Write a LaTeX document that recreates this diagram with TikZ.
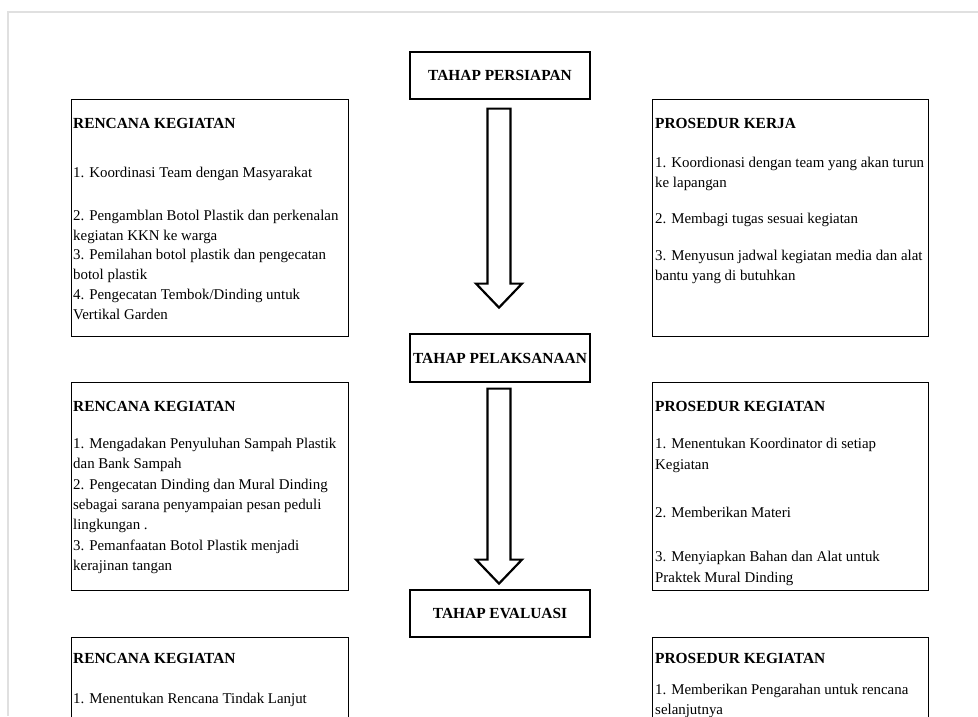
\documentclass[tikz,border=0pt]{standalone}
\usepackage{fontspec}
\setmainfont{Liberation Serif}
\usepackage{tikz}
\usetikzlibrary{calc}

\begin{document}
\begin{tikzpicture}[x=1pt,y=-1pt,line join=miter,
    every node/.style={inner sep=0pt,font=\fontsize{14.9pt}{20pt}\selectfont},
    stage/.style={draw=black,line width=1.2pt,minimum width=180pt,minimum height=47pt,
      font=\fontsize{15.4pt}{20pt}\selectfont\bfseries},
    panel/.style={draw=black,line width=1.2pt,anchor=north west},
    txt/.style={anchor=base west},
    head/.style={anchor=base west,font=\fontsize{15.4pt}{20pt}\selectfont\bfseries},
    hollow/.style={draw=black,line width=2.2pt,fill=white}]
  \useasboundingbox (0,0) rectangle (978,716);
  \draw[black!12,line width=1.5pt] (978,12) -- (8,12) -- (8,716);

  \node[stage] (persiapan) at (500,75.5) {TAHAP PERSIAPAN};
  \node[stage,minimum height=48pt] (pelaksanaan) at (500,358) {TAHAP PELAKSANAAN};
  \node[stage] (evaluasi) at (500,613.5) {TAHAP EVALUASI};

  \draw[hollow] ($(persiapan.south)+(-12.5,9)$) -- ++(0,175) -- ++(-11.5,0) -- ++(23,24)
    -- ++(23,-24) -- ++(-11.5,0) -- ++(0,-175) -- cycle;
  \draw[hollow] ($(pelaksanaan.south)+(-12.5,6)$) -- ++(0,171) -- ++(-11.5,0) -- ++(23,24)
    -- ++(23,-24) -- ++(-11.5,0) -- ++(0,-171) -- cycle;

  \node[panel,minimum width=277pt,minimum height=237pt] (rencana1) at (71,99) {};
  \node[panel,minimum width=276pt,minimum height=237pt] (prosedur1) at (652,99) {};
  \node[panel,minimum width=277pt,minimum height=208pt] (rencana2) at (71,382) {};
  \node[panel,minimum width=276pt,minimum height=208pt] (prosedur2) at (652,382) {};
  \node[panel,minimum width=277pt,minimum height=120pt] (rencana3) at (71,637) {};
  \node[panel,minimum width=276pt,minimum height=120pt] (prosedur3) at (652,637) {};

  \node[head] (rh1) at (73,128) {RENCANA KEGIATAN};
  \foreach \yy/\t in {177/{1. Koordinasi Team dengan Masyarakat},
      220/{2. Pengamblan Botol Plastik dan perkenalan},
      240/{kegiatan KKN ke warga},
      259/{3. Pemilahan botol plastik dan pengecatan},
      279/{botol plastik},
      299/{4. Pengecatan Tembok/Dinding untuk},
      319/{Vertikal Garden}}
    \node[txt] (r1-\yy) at (73,\yy) {\t};

  \node[head] (ph1) at (655,128) {PROSEDUR KERJA};
  \foreach \yy/\t in {167/{1. Koordionasi dengan team yang akan turun},
      187/{ke lapangan},
      223/{2. Membagi tugas sesuai kegiatan},
      260/{3. Menyusun jadwal kegiatan media dan alat},
      280/{bantu yang di butuhkan}}
    \node[txt] (p1-\yy) at (655,\yy) {\t};

  \node[head] (rh2) at (73,411) {RENCANA KEGIATAN};
  \foreach \yy/\t in {448/{1. Mengadakan Penyuluhan Sampah Plastik},
      468/{dan Bank Sampah},
      489/{2. Pengecatan Dinding dan Mural Dinding},
      509/{sebagai sarana penyampaian pesan peduli},
      529/{lingkungan .},
      550/{3. Pemanfaatan Botol Plastik menjadi},
      570/{kerajinan tangan}}
    \node[txt] (r2-\yy) at (73,\yy) {\t};

  \node[head] (ph2) at (655,411) {PROSEDUR KEGIATAN};
  \foreach \yy/\t in {448/{1. Menentukan Koordinator di setiap},
      469/{Kegiatan},
      517/{2. Memberikan Materi},
      561/{3. Menyiapkan Bahan dan Alat untuk},
      582/{Praktek Mural Dinding}}
    \node[txt] (p2-\yy) at (655,\yy) {\t};

  \node[head] (rh3) at (73,663) {RENCANA KEGIATAN};
  \node[txt] (r3-703) at (73,703) {1. Menentukan Rencana Tindak Lanjut};

  \node[head] (ph3) at (655,663) {PROSEDUR KEGIATAN};
  \foreach \yy/\t in {694/{1. Memberikan Pengarahan untuk rencana},
      714/{selanjutnya}}
    \node[txt] (p3-\yy) at (655,\yy) {\t};
\end{tikzpicture}
\end{document}
